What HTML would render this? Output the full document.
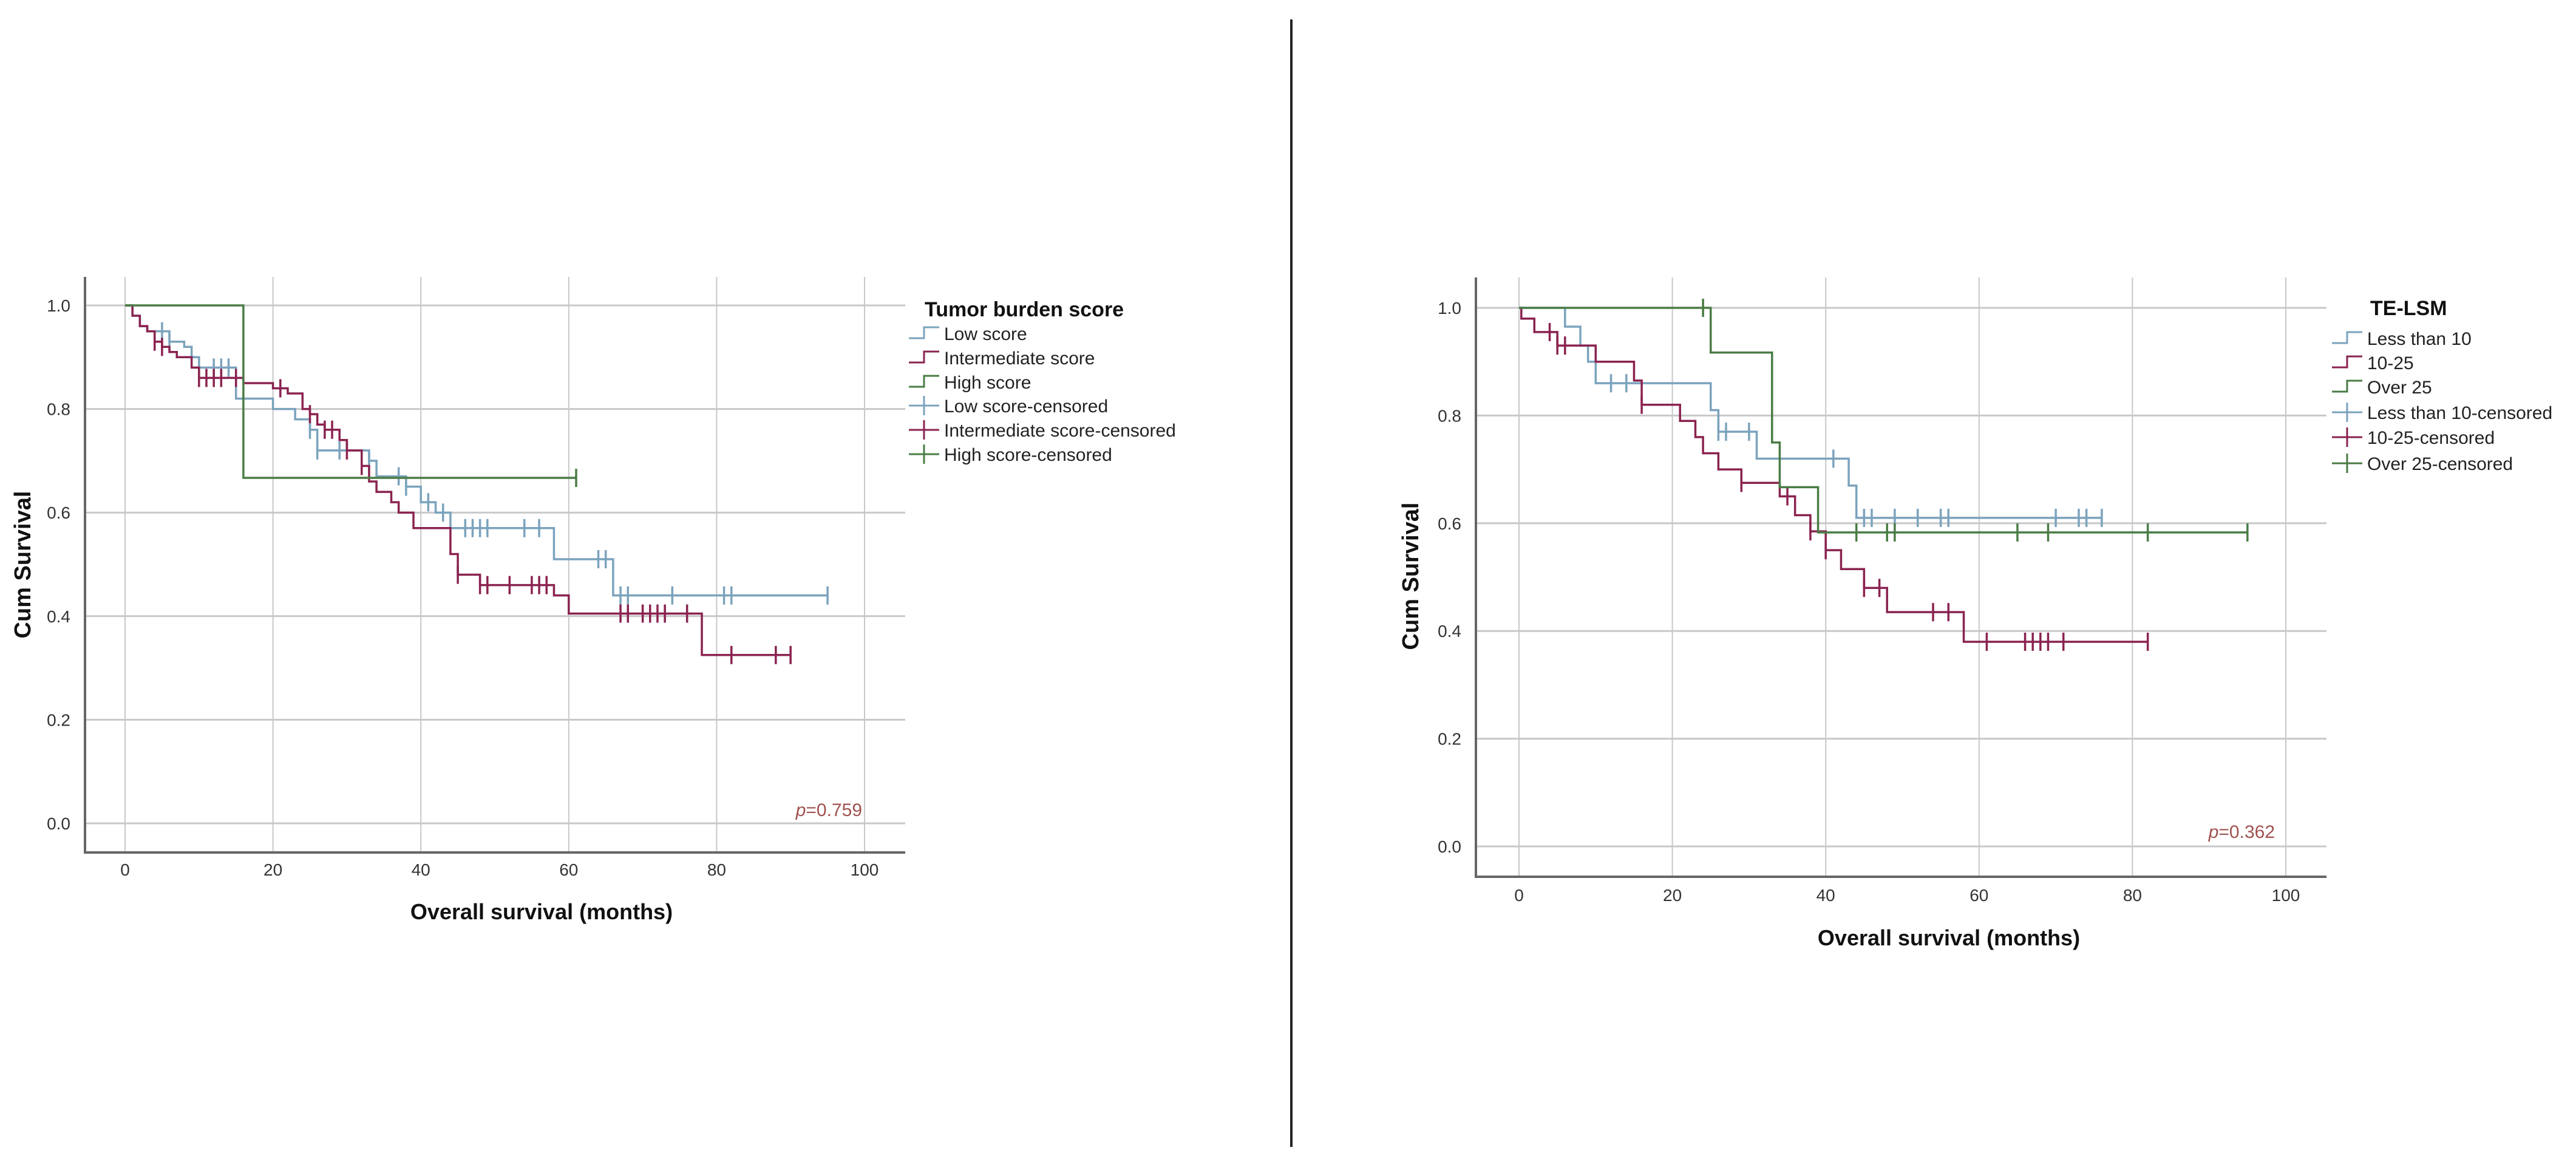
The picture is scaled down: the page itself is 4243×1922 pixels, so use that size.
<!DOCTYPE html>
<html><head><meta charset="utf-8">
<style>
html,body{margin:0;padding:0;background:#fff;}
svg{display:block;}
text{font-family:"Liberation Sans",sans-serif;}
</style></head>
<body>
<svg id="svg" width="4243" height="1922" viewBox="0 0 4243 1922" xmlns="http://www.w3.org/2000/svg">
<rect width="4243" height="1922" fill="#fff"/>
<line x1="2127" y1="32" x2="2127" y2="1889" stroke="#222" stroke-width="4"/>
</svg>
<script>
// ---- data: left chart (Tumor burden score) ----
const xTicks = [0, 20, 40, 60, 80, 100];
const yTicks = [0.0, 0.2, 0.4, 0.6, 0.8, 1.0];
const lowTimes = [0,1,2,3,6,8,9,10,15,20,23,25,26,33,34,38,40,42,44,58,66,95];
const lowSurv  = [1,.98,.96,.95,.93,.92,.90,.88,.82,.80,.78,.76,.72,.70,.67,.65,.62,.60,.57,.51,.44,.44];
const lowCens  = [5,6,12,13,14,25,26,29,33,37,38,41,43,46,47,48,49,54,56,64,65,67,68,74,81,82,95];
const intTimes = [0,1,2,3,4,5,6,7,9,10,16,20,22,24,25,26,27,29,30,32,33,34,36,37,39,44,45,48,58,60,78,90];
const intSurv  = [1,.98,.96,.95,.93,.92,.91,.90,.88,.86,.85,.84,.83,.80,.79,.77,.76,.74,.72,.69,.66,.64,.62,.60,.57,.52,.48,.46,.44,.405,.325,.325];
const intCens  = [4,5,10,11,12,13,15,21,25,27,28,30,32,45,48,49,52,55,56,57,67,68,70,71,72,73,76,82,88,90];
const highTimes = [0,16,61];
const highSurv  = [1,.667,.667];
const highCens  = [61];
// ---- data: right chart (TE-LSM) ----
const lt10Times = [0,6,8,9,10,25,26,31,43,44,76];
const lt10Surv  = [1,.965,.93,.90,.86,.81,.77,.72,.67,.61,.61];
const lt10Cens  = [12,14,26,27,30,41,45,46,49,52,55,56,70,73,74,76];
const midTimes = [0,0.3,2,5,10,15,16,21,23,24,26,29,34,36,38,40,42,45,48,58,82];
const midSurv  = [1,.98,.955,.93,.90,.865,.82,.79,.76,.73,.70,.675,.65,.615,.585,.55,.515,.48,.435,.38,.38];
const midCens  = [4,5,6,16,29,35,38,40,45,47,54,56,61,66,67,68,69,71,82];
const ov25Times = [0,25,33,34,39,95];
const ov25Surv  = [1,.917,.75,.667,.583,.583];
const ov25Cens  = [24,44,48,49,65,69,82,95];

const BLUE="#7ba3bd", RED="#8a2350", GREEN="#4a7c45";
const NS="http://www.w3.org/2000/svg";
const svg=document.getElementById('svg');
function el(tag,attrs,parent){const e=document.createElementNS(NS,tag);for(const k in attrs)e.setAttribute(k,attrs[k]);(parent||svg).appendChild(e);return e;}

function chart(cfg){
  const g=el('g',{});
  
  
  const sx=v=>cfg.x0+(cfg.x100-cfg.x0)*v/100;
  const sy=v=>cfg.y0+(cfg.y1-cfg.y0)*v;
  xTicks.forEach(t=>{const l=el('line',{x1:sx(t),x2:sx(t),y1:cfg.top,y2:cfg.bottom,stroke:'#c8c8c8','stroke-width':2},g);
    
    
    const tx=el('text',{x:sx(t),y:cfg.tickY,'font-size':28,'text-anchor':'middle',fill:'#333'},g);tx.textContent=t;
    
    });
  yTicks.forEach(t=>{const l=el('line',{x1:cfg.left,x2:cfg.right,y1:sy(t),y2:sy(t),stroke:'#c8c8c8','stroke-width':3},g);
    
    
    const tx=el('text',{x:cfg.left-24,y:sy(t)+10,'font-size':28,'text-anchor':'end',fill:'#333'},g);tx.textContent=t.toFixed(1);
    
    });
  const ax=el('path',{d:`M${cfg.left},${cfg.top} V${cfg.bottom} H${cfg.right}`,fill:'none',stroke:'#666','stroke-width':4},g);
  
  
  cfg.series.forEach(s=>{
    let d=`M${sx(s.t[0])},${sy(s.s[0])}`;
    for(let i=1;i<s.t.length;i++){d+=` H${sx(s.t[i])} V${sy(s.s[i])}`;}
    const p=el('path',{d,fill:'none',stroke:s.c,'stroke-width':3.5},g);
    
    
    s.cens.forEach(ct=>{
      let v=s.s[0];for(let i=0;i<s.t.length;i++){if(s.t[i]<=ct)v=s.s[i];}
      const m=el('line',{x1:sx(ct),x2:sx(ct),y1:sy(v)-15,y2:sy(v)+15,stroke:s.c,'stroke-width':3.5},g);
      
      
    });
  });
  const xt=el('text',{x:cfg.xtX,y:cfg.xtY,'font-size':36,'font-weight':'bold','text-anchor':'middle',fill:'#111'},g);xt.textContent='Overall survival (months)';
  
  
  const yt=el('text',{x:0,y:0,'font-size':38,'font-weight':'bold','text-anchor':'middle',fill:'#111',transform:`translate(${cfg.ytX},${cfg.ytY}) rotate(-90)`},g);yt.textContent='Cum Survival';
  
  
  const pv=el('text',{x:cfg.pX,y:cfg.pY,'font-size':30,'text-anchor':'end',fill:'#a0524f'},g);
  pv.innerHTML='<tspan font-style="italic">p</tspan>='+cfg.p;
  
  
  const lt=el('text',{x:cfg.legX,y:cfg.legTitleY,'font-size':34,'font-weight':'bold',fill:'#111'},g);lt.textContent=cfg.legTitle;
  
  
  cfg.legend.forEach((e,i)=>{
    const y=cfg.legY[i];const x=cfg.legSymX;
    let d=e.step?`M${x},${y+8} H${x+25} V${y-10} H${x+50}`:`M${x},${y} H${x+50} M${x+25},${y-16} V${y+16}`;
    const sym=el('path',{d,fill:'none',stroke:e.c,'stroke-width':3},g);
    
    
    const t=el('text',{x:x+58,y:y+11,'font-size':30,fill:'#222'},g);t.textContent=e.label;
    
    
  });
}

chart({name:'tumor-burden-chart',x0:206,x100:1424,y0:1356,y1:503,left:140,right:1491,top:456,bottom:1404,tickY:1442,
  xtX:892,xtY:1514,ytX:50,ytY:930,pX:1420,pY:1344,p:'0.759',
  legX:1523,legTitleY:521,legSymX:1497,legY:[549,589,629,668,708,748],legTitle:'Tumor burden score',
  series:[{key:'low-score',t:lowTimes,s:lowSurv,cens:lowCens,c:BLUE},
          {key:'intermediate-score',t:intTimes,s:intSurv,cens:intCens,c:RED},
          {key:'high-score',t:highTimes,s:highSurv,cens:highCens,c:GREEN}],
  legend:[{label:'Low score',c:BLUE,step:1},{label:'Intermediate score',c:RED,step:1},{label:'High score',c:GREEN,step:1},
          {label:'Low score-censored',c:BLUE},{label:'Intermediate score-censored',c:RED},{label:'High score-censored',c:GREEN}]});

chart({name:'te-lsm-chart',x0:2502,x100:3765,y0:1394,y1:507,left:2431,right:3832,top:457,bottom:1444,tickY:1484,
  xtX:3210,xtY:1557,ytX:2336,ytY:949,pX:3747,pY:1380,p:'0.362',
  legX:3904,legTitleY:519,legSymX:3841,legY:[557,597,637,679,720,763],legTitle:'TE-LSM',
  series:[{key:'less-than-10',t:lt10Times,s:lt10Surv,cens:lt10Cens,c:BLUE},
          {key:'10-25',t:midTimes,s:midSurv,cens:midCens,c:RED},
          {key:'over-25',t:ov25Times,s:ov25Surv,cens:ov25Cens,c:GREEN}],
  legend:[{label:'Less than 10',c:BLUE,step:1},{label:'10-25',c:RED,step:1},{label:'Over 25',c:GREEN,step:1},
          {label:'Less than 10-censored',c:BLUE},{label:'10-25-censored',c:RED},{label:'Over 25-censored',c:GREEN}]});
</script>
</body></html>
